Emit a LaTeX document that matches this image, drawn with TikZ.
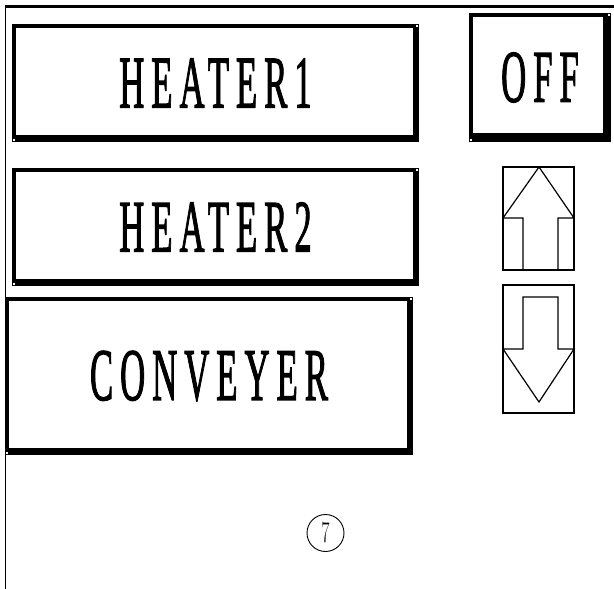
\documentclass[tikz,border=0pt]{standalone}
\usepackage{fontspec}
\usepackage{graphicx}
\newfontfamily\panelfont[LetterSpace=20, FakeBold=2]{Liberation Serif}
\newcommand\squeezed[1]{\scalebox{0.47}[1]{#1}}

\begin{document}
\begin{tikzpicture}[x=1pt, y=-1pt,
  panel button/.style={draw, line width=4pt, outer sep=0pt, inner sep=0pt,
    font=\panelfont\fontsize{74}{80}\selectfont},
  key box/.style={draw, line width=1.3pt, outer sep=0pt, inner sep=0pt},
  key arrow/.style={line width=1.2pt, line join=miter}]
\useasboundingbox (0,0) rectangle (614,589);
% frame
\draw [line width=3pt] (5,6.5) -- (614,6.5);
\draw [line width=1pt] (5.5,5) -- (5.5,589);

\node [panel button, minimum width=403pt, minimum height=114pt] (heater1) at (215.5,83) {\squeezed{HEATER1}};
\node [panel button, minimum width=403pt, minimum height=114pt] (heater2) at (215.5,227) {\squeezed{HEATER2}};
\node [panel button, minimum width=404pt, minimum height=154pt] (conveyer) at (209,376) {\squeezed{CONVEYER}};
\node [panel button, minimum width=138pt, minimum height=125pt] (off) at (540,77.5) {\squeezed{OFF}};

% heavier bottom and right edges
\foreach \b/\r/\d in {heater1/2pt/3pt, heater2/2pt/3pt, conveyer/2pt/3pt, off/4pt/5pt} {
  \fill ([shift={(-2pt-\r,-2pt)}]\b.north east) rectangle ([shift={(-2pt,2pt)}]\b.south east);
  \fill ([shift={(2pt,2pt)}]\b.south west) rectangle ([shift={(-2pt,2pt+\d)}]\b.south east);
  \fill [white] ([shift={(-1pt,-1pt)}]\b.north east) rectangle ++(2pt,2pt);
  \fill [white] ([shift={(-1pt,-1pt)}]\b.south west) rectangle ++(2pt,2pt);
}

\node [key box, minimum width=71pt, minimum height=103pt] (up) at (538.5,218.5) {};
\node [key box, minimum width=71pt, minimum height=128pt] (down) at (538.5,349) {};
\draw [key arrow] (523,270) -- (523,218) -- (503,218) -- (539,167) -- (574,218) -- (558,218) -- (558,270);
\draw [key arrow] (523,349) -- (523,297) -- (558,297) -- (558,349) -- (574,349) -- (539,402) -- (503,349) -- cycle;

\node [draw, circle, line width=0.9pt, minimum size=37pt, inner sep=0pt,
  font=\fontsize{30}{30}\selectfont] (seven) at (325.5,533) {\scalebox{0.6}[1]{7}};
\end{tikzpicture}
\end{document}
